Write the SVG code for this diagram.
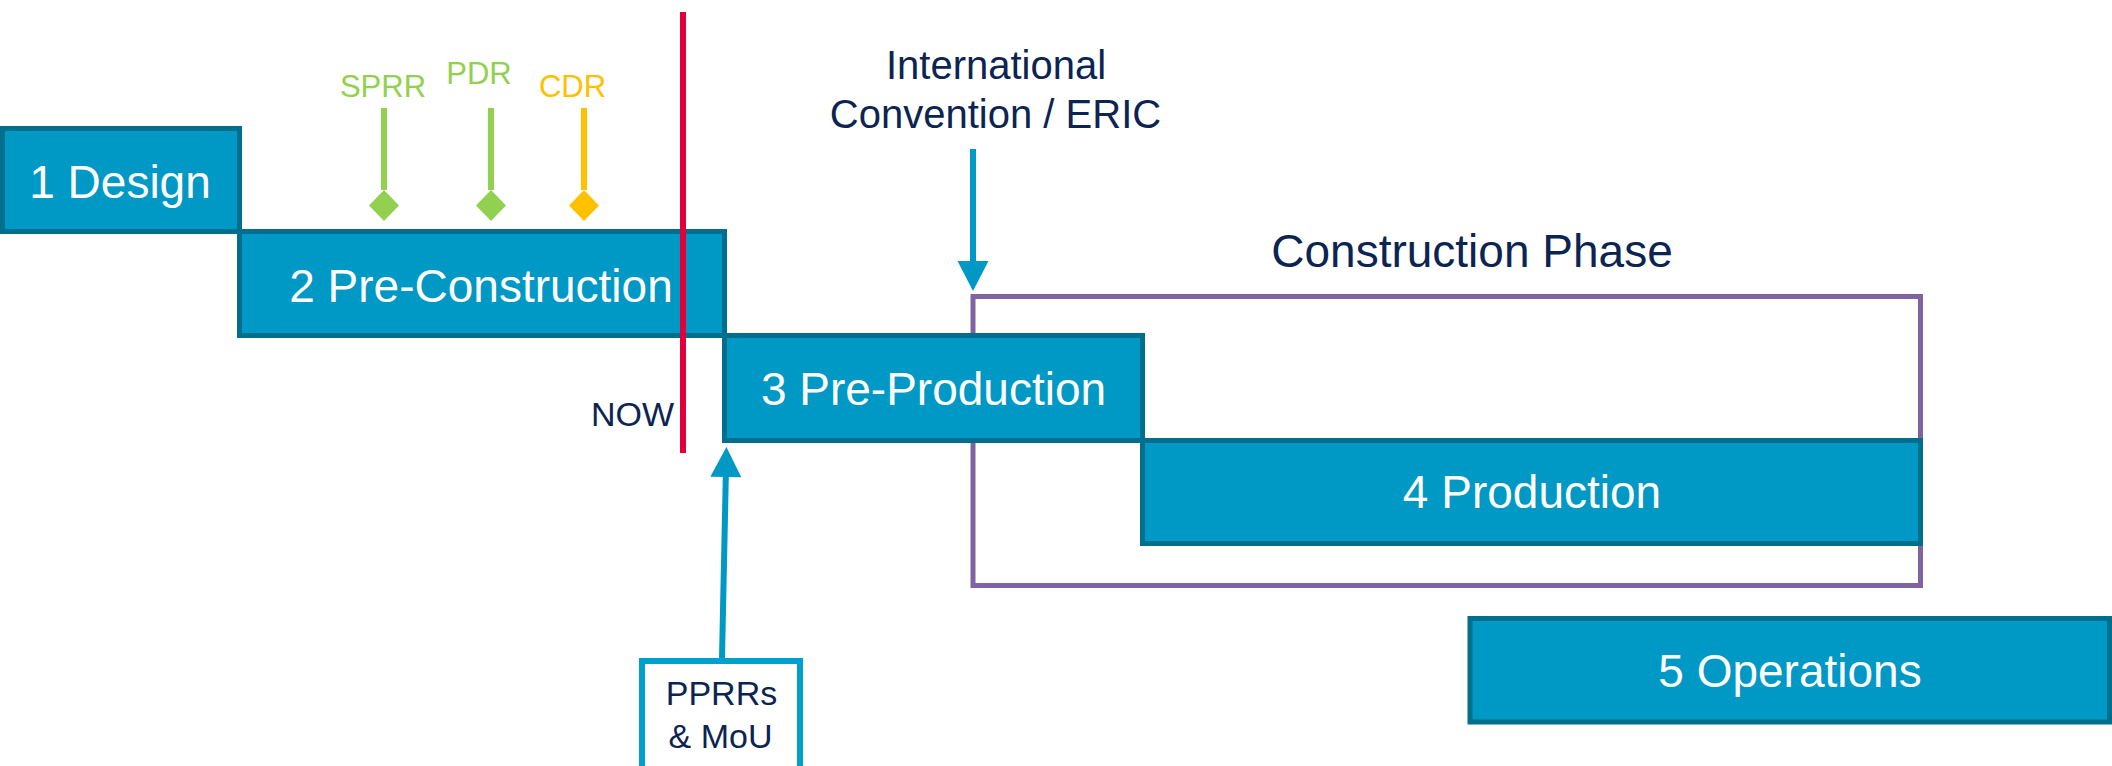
<svg xmlns="http://www.w3.org/2000/svg" width="2112" height="766" viewBox="0 0 2112 766">
<style>
.phase{fill:#0099c5;stroke:#006f8e;stroke-width:5}
.plabel{font-family:"Liberation Sans",Arial,sans-serif;font-size:46px;fill:#ffffff;text-anchor:middle}
.navy{font-family:"Liberation Sans",Arial,sans-serif;fill:#0c2451}
.ms{font-family:"Liberation Sans",Arial,sans-serif;font-size:31px;text-anchor:middle}
</style>
<defs>
<marker id="dGreen" markerUnits="userSpaceOnUse" markerWidth="32" markerHeight="32" refX="0" refY="0" viewBox="0 -16 32 32" orient="auto" overflow="visible"><path d="M0,0 L15.5,-15 L31,0 L15.5,15 Z" fill="#92d050"/></marker>
<marker id="dOrange" markerUnits="userSpaceOnUse" markerWidth="32" markerHeight="32" refX="0" refY="0" viewBox="0 -16 32 32" orient="auto" overflow="visible"><path d="M0,0 L15.5,-15 L31,0 L15.5,15 Z" fill="#ffc000"/></marker>
<marker id="aBlue" markerUnits="userSpaceOnUse" markerWidth="32" markerHeight="32" refX="0" refY="0" viewBox="0 -16 32 32" orient="auto" overflow="visible"><path d="M0,-15.5 L30,0 L0,15.5 Z" fill="#0099c6"/></marker>
</defs>

<g id="construction-phase">
<rect x="973" y="296.5" width="947.5" height="289" fill="none" stroke="#8064a2" stroke-width="5"/>
<text class="navy" x="1472" y="267" font-size="46" text-anchor="middle">Construction Phase</text>
</g>

<g id="design"><rect class="phase" x="2.5" y="128.5" width="237" height="103"/><text class="plabel" x="120" y="198">1 Design</text></g>
<g id="pre-construction"><rect class="phase" x="239.5" y="231.5" width="485" height="104"/><text class="plabel" x="481" y="302">2 Pre-Construction</text></g>
<g id="pre-production"><rect class="phase" x="724.5" y="335.5" width="418" height="105"/><text class="plabel" x="933.5" y="405">3 Pre-Production</text></g>
<g id="production"><rect class="phase" x="1142.5" y="440.5" width="778" height="103"/><text class="plabel" x="1532" y="508">4 Production</text></g>
<g id="operations"><rect class="phase" x="1470" y="618.5" width="639.5" height="103.5"/><text class="plabel" x="1790" y="687">5 Operations</text></g>

<g id="milestones">
<text class="ms" x="383" y="97" fill="#92d050">SPRR</text>
<text class="ms" x="479" y="84" fill="#92d050">PDR</text>
<text class="ms" x="572.5" y="97" fill="#ffc000">CDR</text>
</g>

<g id="international-convention">
<text class="navy" font-size="40" text-anchor="middle" x="996" y="79">International</text>
<text class="navy" font-size="40" text-anchor="middle" x="995.5" y="128">Convention / ERIC</text>
</g>

<g id="now">
<text class="navy" font-size="34" text-anchor="end" x="674" y="426">NOW</text>
</g>

<g id="pprrs">
<rect x="642" y="661" width="158" height="140" fill="#ffffff" stroke="#00a0cc" stroke-width="6"/>
<text class="navy" font-size="34" text-anchor="middle" x="721.5" y="705">PPRRs</text>
<text class="navy" font-size="34" text-anchor="middle" x="720.5" y="748">&amp; MoU</text>
</g>

<g id="connectors">
<line x1="384" y1="108" x2="384" y2="190" stroke="#92d050" stroke-width="6" marker-end="url(#dGreen)"/>
<line x1="491" y1="108" x2="491" y2="190" stroke="#92d050" stroke-width="6" marker-end="url(#dGreen)"/>
<line x1="584" y1="108" x2="584" y2="190" stroke="#ffc000" stroke-width="6" marker-end="url(#dOrange)"/>
<line x1="973" y1="149" x2="973" y2="261" stroke="#0099c6" stroke-width="6" marker-end="url(#aBlue)"/>
<line x1="722" y1="658" x2="725.8" y2="477" stroke="#0099c6" stroke-width="6" marker-end="url(#aBlue)"/>
<line x1="683" y1="12" x2="683" y2="453" stroke="#e2003b" stroke-width="6"/>
</g>
</svg>
